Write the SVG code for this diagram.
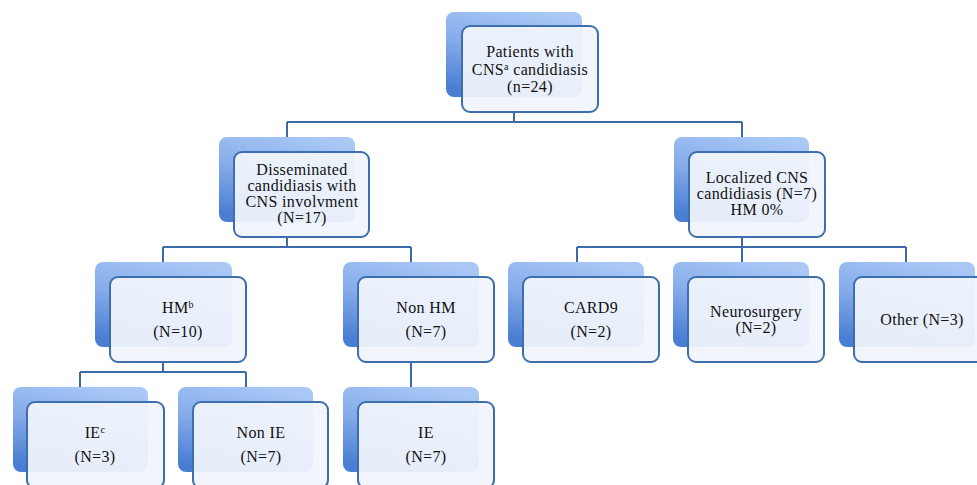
<svg xmlns="http://www.w3.org/2000/svg" width="977" height="485" viewBox="0 0 977 485">
<defs>
<linearGradient id="bg" x1="0.7" y1="0" x2="0.3" y2="1">
<stop offset="0" stop-color="#a9c8f6"/>
<stop offset="0.5" stop-color="#86acea"/>
<stop offset="1" stop-color="#4a7ed3"/>
</linearGradient>
</defs>
<style>
.back{fill:url(#bg);}
.front{fill:#f1f5fc;fill-opacity:0.93;stroke:#3d6eae;stroke-width:2;}
.conn{fill:none;stroke:#3b6aa6;stroke-width:2;}
text{font-family:"Liberation Serif","Times New Roman",serif;font-size:16px;letter-spacing:0.35px;fill:#111;text-anchor:middle;}
</style>
<g id="connectors">
<path class="conn" d="M514,112 V122 M287,122 H742 M287,122 V137 M742,122 V137"/>
<path class="conn" d="M287,237 V247 M163,247 H411 M163,247 V262 M411,247 V262"/>
<path class="conn" d="M742,237 V247 M577,247 H906 M577,247 V262 M742,247 V262 M906,247 V262"/>
<path class="conn" d="M163,362 V372 M80,372 H246 M80,372 V387 M246,372 V387"/>
<path class="conn" d="M411,362 V387"/>
</g>
<g id="root">
<rect class="back" x="446" y="12" width="136" height="85" rx="8"/>
<rect class="front" x="462" y="26" width="136" height="86" rx="8"/>
<text x="530" y="57">Patients with</text>
<text x="530" y="75">CNS<tspan dy="-5" font-size="10">a</tspan><tspan dy="5"> candidiasis</tspan></text>
<text x="530" y="92">(n=24)</text>
</g>
<g id="disseminated">
<rect class="back" x="219" y="137" width="136" height="85" rx="8"/>
<rect class="front" x="234" y="152" width="135" height="85" rx="8"/>
<text x="302" y="175">Disseminated</text>
<text x="302" y="191">candidiasis with</text>
<text x="302" y="207">CNS involvment</text>
<text x="302" y="223">(N=17)</text>
</g>
<g id="localized">
<rect class="back" x="674" y="137" width="135" height="85" rx="8"/>
<rect class="front" x="689" y="152" width="136" height="85" rx="8"/>
<text x="757" y="183">Localized CNS</text>
<text x="757" y="199">candidiasis (N=7)</text>
<text x="757" y="215">HM 0%</text>
</g>
<g id="hm">
<rect class="back" x="95" y="262" width="137" height="85" rx="8"/>
<rect class="front" x="110" y="277" width="136" height="85" rx="8"/>
<text x="178" y="313">HM<tspan dy="-5" font-size="10">b</tspan></text>
<text x="178" y="337">(N=10)</text>
</g>
<g id="nonhm">
<rect class="back" x="343" y="262" width="136" height="85" rx="8"/>
<rect class="front" x="358" y="277" width="136" height="85" rx="8"/>
<text x="426" y="313">Non HM</text>
<text x="426" y="337">(N=7)</text>
</g>
<g id="card9">
<rect class="back" x="508" y="262" width="136" height="85" rx="8"/>
<rect class="front" x="523" y="277" width="136" height="85" rx="8"/>
<text x="591" y="313">CARD9</text>
<text x="591" y="337">(N=2)</text>
</g>
<g id="neurosurgery">
<rect class="back" x="673" y="262" width="136" height="85" rx="8"/>
<rect class="front" x="688" y="277" width="136" height="85" rx="8"/>
<text x="756" y="317">Neurosurgery</text>
<text x="756" y="333">(N=2)</text>
</g>
<g id="other">
<rect class="back" x="839" y="262" width="136" height="85" rx="8"/>
<rect class="front" x="854" y="277" width="136" height="85" rx="8"/>
<text x="922" y="325">Other (N=3)</text>
</g>
<g id="ie-hm">
<rect class="back" x="13" y="387" width="135" height="85" rx="8"/>
<rect class="front" x="27" y="402" width="137" height="86" rx="8"/>
<text x="95" y="438">IE<tspan dy="-5" font-size="10">c</tspan></text>
<text x="95" y="462">(N=3)</text>
</g>
<g id="nonie">
<rect class="back" x="178" y="387" width="135" height="85" rx="8"/>
<rect class="front" x="193" y="402" width="135" height="86" rx="8"/>
<text x="261" y="438">Non IE</text>
<text x="261" y="462">(N=7)</text>
</g>
<g id="ie-nonhm">
<rect class="back" x="343" y="387" width="136" height="85" rx="8"/>
<rect class="front" x="358" y="402" width="136" height="86" rx="8"/>
<text x="426" y="438">IE</text>
<text x="426" y="462">(N=7)</text>
</g>
</svg>
